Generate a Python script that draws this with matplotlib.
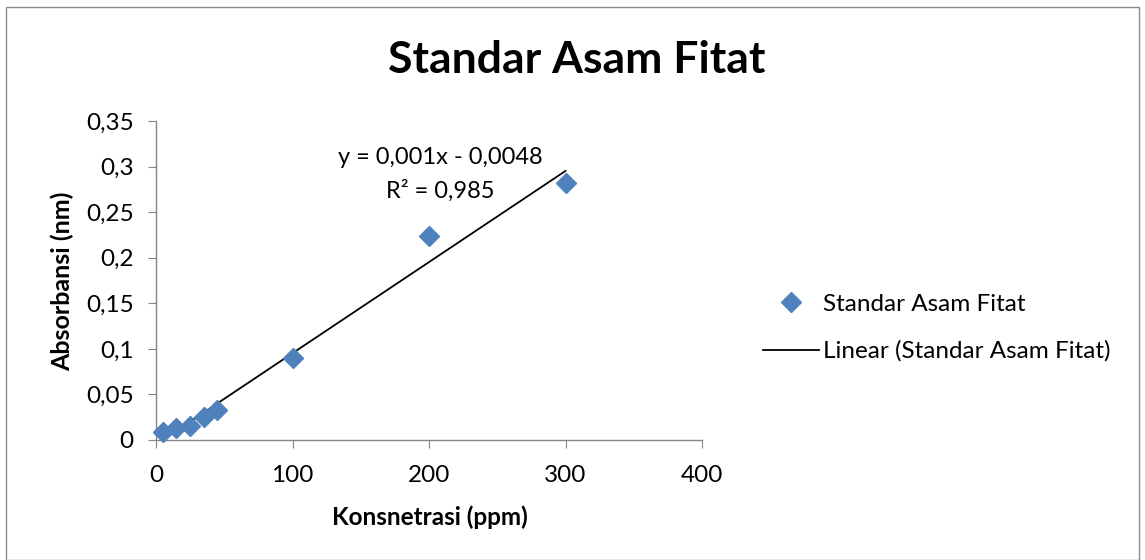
import matplotlib
matplotlib.use("Agg")
import matplotlib.pyplot as plt
from matplotlib.lines import Line2D
from matplotlib.patches import Rectangle
import numpy as np

concentration = [5, 15, 25, 35, 45, 100, 200, 300]
absorbance = [0.009, 0.013, 0.015, 0.025, 0.033, 0.090, 0.224, 0.282]
slope = 0.001
intercept = -0.0048
x_ticks = [0, 100, 200, 300, 400]
y_ticks = [0, 0.05, 0.1, 0.15, 0.2, 0.25, 0.3, 0.35]
y_tick_labels = ["0", "0,05", "0,1", "0,15", "0,2", "0,25", "0,3", "0,35"]

plt.rcParams['font.family'] = ['Lato', 'DejaVu Sans']
W, H = 1145, 560
fig = plt.figure(figsize=(W/100, H/100), dpi=100)
fig.patches.append(Rectangle((6/W, 0), (1139-6)/W, (553)/H, transform=fig.transFigure,
                             fill=False, edgecolor='#8c8c8c', linewidth=1))

ax = fig.add_axes([156/W, 1-440/H, (702-156)/W, (440-121)/H])
ax.set_xlim(0, 400)
ax.set_ylim(0, 0.35)
for s in ['top', 'right']:
    ax.spines[s].set_visible(False)
for s in ['left', 'bottom']:
    ax.spines[s].set_color('#868686')
    ax.spines[s].set_linewidth(1)
ax.set_xticks(x_ticks)
ax.set_xticklabels([str(v) for v in x_ticks])
ax.set_yticks(y_ticks)
ax.set_yticklabels(y_tick_labels)
ax.tick_params(direction='out', length=6, color='#868686', labelsize=17.5)
ax.tick_params(axis='y', pad=10)
ax.tick_params(axis='x', pad=12)

xfit = np.array([concentration[0], concentration[-1]])
ax.plot(xfit, slope*xfit + intercept, color='black', linewidth=1.3, zorder=2)
ax.plot(concentration, absorbance, linestyle='none', marker='D', markersize=10.5,
        color='#4F81BD', markeredgecolor='#4F81BD', zorder=3, clip_on=False)

ax.text(208, 0.3095, "y = 0,001x - 0,0048", fontsize=17, ha='center', va='center')
ax.text(208, 0.274, "R² = 0,985", fontsize=17, ha='center', va='center')

fig.text(577/W, 1-60/H, "Standar Asam Fitat", fontsize=32, fontweight='bold',
         ha='center', va='center')
fig.text(430/W, 1-517/H, "Konsnetrasi (ppm)", fontsize=17.5, fontweight='bold',
         ha='center', va='center')
fig.text(62/W, 1-281/H, "Absorbansi (nm)", fontsize=18, fontweight='bold',
         ha='center', va='center', rotation=90)

handles = [Line2D([], [], linestyle='none', marker='D', markersize=10.5, color='#4F81BD'),
           Line2D([], [], color='black', linewidth=1.3)]
leg = fig.legend(handles, ["Standar Asam Fitat", "Linear (Standar Asam Fitat)"],
                 loc='center left', bbox_to_anchor=(763/W, 1-328/H), frameon=False,
                 fontsize=17.5, handlelength=2.3, handletextpad=0.15, labelspacing=1.05,
                 borderaxespad=0, borderpad=0)

fig.savefig("out.png", dpi=100)
